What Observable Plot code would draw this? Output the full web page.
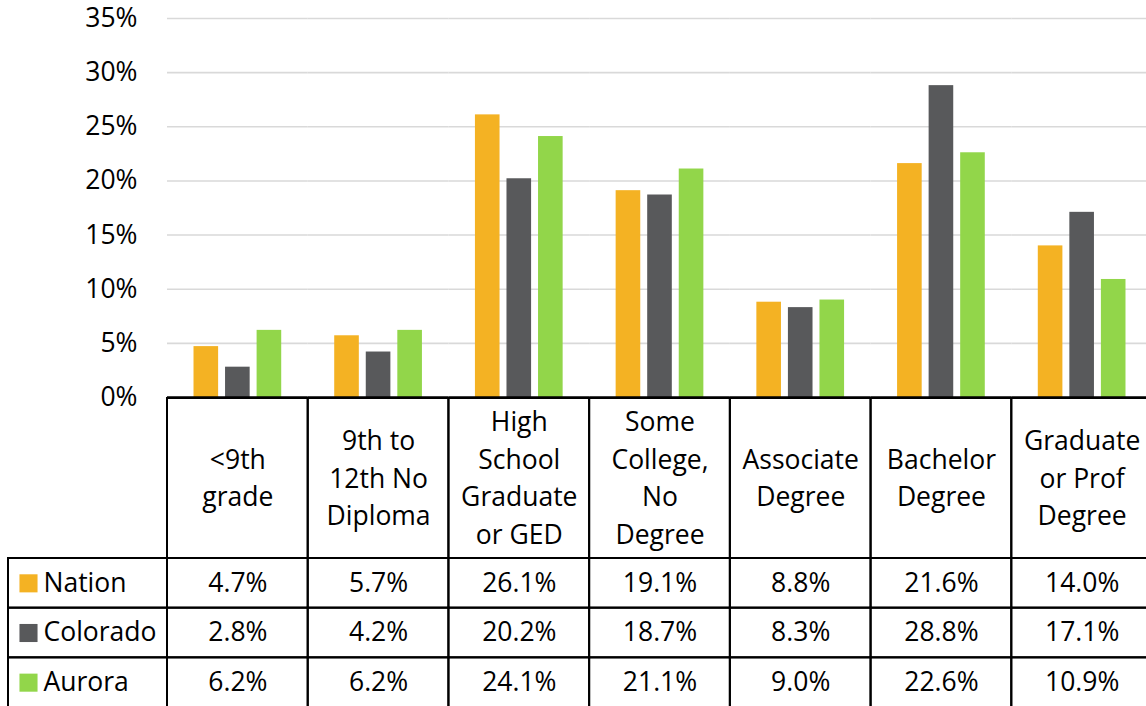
<!DOCTYPE html>
<html><head><meta charset="utf-8">
<script src="https://cdn.jsdelivr.net/npm/d3@7"></script>
<script src="https://cdn.jsdelivr.net/npm/@observablehq/plot@0.6"></script>
<style>
html,body{margin:0;padding:0;background:#fff;overflow:hidden}
#wrap{position:relative;width:1146px;height:706px;overflow:hidden;background:#fff}
#wrap > svg{position:absolute;margin:0;max-width:none !important;background:transparent !important}
</style></head><body><div id="wrap"></div>
<script>
const categories = ["<9th grade","9th to 12th No Diploma","High School Graduate or GED","Some College, No Degree","Associate Degree","Bachelor Degree","Graduate or Prof Degree"];
const categoryLabels = ["<9th\ngrade","9th to\n12th No\nDiploma","High\nSchool\nGraduate\nor GED","Some\nCollege,\nNo\nDegree","Associate\nDegree","Bachelor\nDegree","Graduate\nor Prof\nDegree"];
const series = ["Nation","Colorado","Aurora"];
const nation = [4.7,5.7,26.1,19.1,8.8,21.6,14.0];
const colorado = [2.8,4.2,20.2,18.7,8.3,28.8,17.1];
const aurora = [6.2,6.2,24.1,21.1,9.0,22.6,10.9];
const seriesColors = ["#F4B223","#58595B","#92D64A"];
const yTicks = [0,5,10,15,20,25,30,35];

const FONT = '"Open Sans", sans-serif';
const FS = 26.5;
const values = {Nation: nation, Colorado: colorado, Aurora: aurora};
const rows = [];
series.forEach(s => categories.forEach((c, i) => rows.push({category: c, series: s, value: values[s][i]})));
const baseStyle = {fontFamily: FONT, fontSize: FS + "px", color: "#000", background: "transparent", overflow: "visible"};
const wrap = document.getElementById("wrap");
function place(svg, left, top) {
  svg.style.left = left + "px"; svg.style.top = top + "px";
  svg.style.maxWidth = "none";
  wrap.appendChild(svg);
}

// Bar chart
const chart = Plot.plot({
  width: 1152, height: 400, marginLeft: 167, marginRight: 0, marginTop: 18, marginBottom: 3,
  style: baseStyle,
  fx: {domain: categories, padding: 0, round: false, axis: null},
  x: {domain: series, paddingInner: 0.22, paddingOuter: 0.84, round: false, axis: null},
  y: {domain: [0, 35], ticks: yTicks, tickFormat: d => d + "%", tickSize: 0, tickPadding: 30, label: null},
  color: {domain: series, range: seriesColors},
  marks: [
    Plot.ruleY(yTicks.filter(d => d > 0), {stroke: "#d9d9d9", strokeWidth: 1.6}),
    Plot.barY(rows, {fx: "category", x: "series", y: "value", fill: "series"}),
    Plot.ruleY([0], {stroke: "#000", strokeWidth: 2.5})
  ]
});
place(chart, 0, 0);

// Header row of the data table
const header = Plot.plot({
  width: 987, height: 162, margin: 1,
  style: baseStyle,
  x: {domain: categories, padding: 0, round: false, axis: null},
  marks: [
    Plot.cell(categories, {x: d => d, stroke: "#000", strokeWidth: 2, fill: "none", inset: 0}),
    Plot.text(categories, {x: d => d, text: (d, i) => categoryLabels[i], lineHeight: 1.42, dy: -3, fontSize: FS, fill: "#000"})
  ]
});
place(header, 166, 397);

// Value rows
const body = Plot.plot({
  width: 987, height: 151, margin: 1,
  style: baseStyle,
  x: {domain: categories, padding: 0, round: false, axis: null},
  y: {domain: series, padding: 0, round: false, axis: null},
  marks: [
    Plot.cell(rows, {x: "category", y: "series", stroke: "#000", strokeWidth: 2, fill: "none", inset: 0}),
    Plot.text(rows, {x: "category", y: "series", text: d => d.value.toFixed(1) + "%", fontSize: FS, fill: "#000"})
  ]
});
place(body, 166, 557);

// Legend column
const legend = Plot.plot({
  width: 161, height: 151, margin: 1,
  style: baseStyle,
  x: {domain: ["legend"], padding: 0, round: false, axis: null},
  y: {domain: series, padding: 0, round: false, axis: null},
  color: {domain: series, range: seriesColors},
  marks: [
    Plot.cell(series, {x: () => "legend", y: d => d, stroke: "#000", strokeWidth: 2, fill: "none", inset: 0}),
    Plot.dot(series, {y: d => d, fill: d => d, symbol: "square", r: 10.2, frameAnchor: "left", dx: 20}),
    Plot.text(series, {y: d => d, text: d => d, frameAnchor: "left", dx: 35, textAnchor: "start", fontSize: FS, fill: "#000"})
  ]
});
place(legend, 7, 557);
</script></body></html>
